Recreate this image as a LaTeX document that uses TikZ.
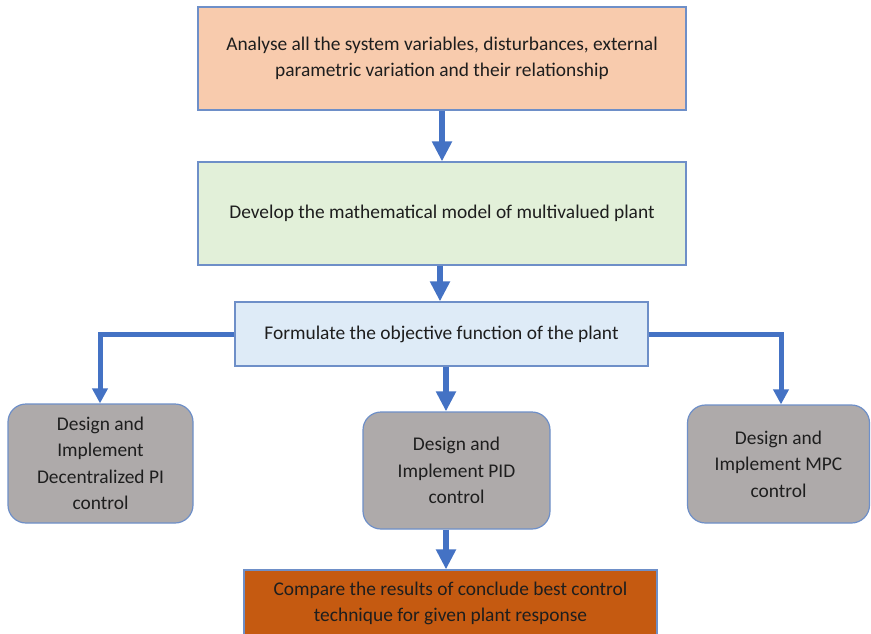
\documentclass[tikz,border=0pt]{standalone}
\usepackage{fontspec}
\setmainfont{Carlito}
\usetikzlibrary{arrows.meta}
\definecolor{peach}{HTML}{F8CBAD}
\definecolor{mint}{HTML}{E2F0D9}
\definecolor{sky}{HTML}{DEEBF7}
\definecolor{stone}{HTML}{AEAAAA}
\definecolor{rust}{HTML}{C55A11}
\definecolor{flow}{HTML}{4472C4}
\definecolor{edge}{HTML}{6E8FC8}
\definecolor{ink}{HTML}{1E1E1E}
\begin{document}
\begin{tikzpicture}[x=1pt,y=-1pt,
  label font/.style={font=\fontsize{19.4}{26.5}\selectfont},
  box/.style={draw=edge,line width=1.2pt,text=ink,align=center,label font,inner sep=0pt},
  rbox/.style={box,rounded corners=18pt,fill=stone},
  flowarrow/.style={draw=flow,line width=6.5pt,-{Triangle[width=19pt,length=20pt]}},
  brancharrow/.style={draw=flow,line width=5pt,-{Triangle[width=15pt,length=15pt]}}]
\useasboundingbox (0,0) rectangle (871,633);
\clip (0,0) rectangle (871,633);
\fill[white] (0,0) rectangle (871,633);

\node[box,fill=peach,minimum width=488pt,minimum height=103pt] (analyse) at (442,58.5)
  {Analyse all the system variables, disturbances, external\\parametric variation and their relationship};
\node[box,fill=mint,minimum width=488pt,minimum height=103pt] (model) at (442,213.5)
  {Develop the mathematical model of multivalued plant};
\node[box,fill=sky,minimum width=413pt,minimum height=64pt] (objective) at (441.5,334)
  {Formulate the objective function of the plant};
\node[rbox,minimum width=185pt,minimum height=119pt] (pi) at (100.5,463.5)
  {Design and\\Implement\\Decentralized PI\\control};
\node[rbox,minimum width=187pt,minimum height=117pt] (pid) at (456.5,470.5)
  {Design and\\Implement PID\\control};
\node[rbox,minimum width=182pt,minimum height=118pt] (mpc) at (778.5,464)
  {Design and\\Implement MPC\\control};
\node[box,fill=rust,minimum width=413pt,minimum height=90pt] (compare) at (450.5,615) {};
\node[text=ink,align=center,label font] (comparetext) at (450.5,603.5)
  {Compare the results of conclude best control\\technique for given plant response};

\coordinate (a1) at (442,108);
\coordinate (a2) at (440,265);
\coordinate (a3) at (446,366);
\coordinate (a5) at (446,529);
\draw[flowarrow] (analyse.south -| a1) -- (model.north -| a1);
\draw[flowarrow] (model.south -| a2) -- (objective.north -| a2);
\draw[flowarrow] (objective.south -| a3) -- (pid.north -| a3);
\draw[flowarrow] (pid.south -| a5) -- (compare.north -| a5);
\draw[brancharrow] (objective.west) -| (pi.north -| 100,0);
\draw[brancharrow] (objective.east) -| (mpc.north -| 781,0);
\end{tikzpicture}
\end{document}
